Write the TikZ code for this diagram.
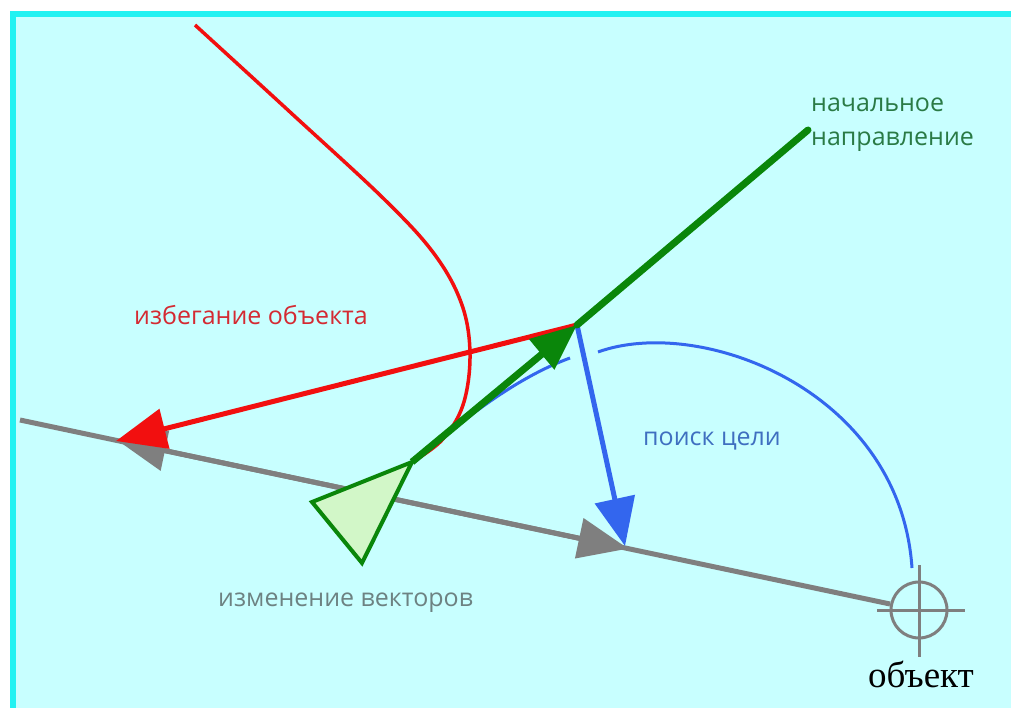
\documentclass[tikz,border=0pt]{standalone}
\usepackage{fontspec}
\setmainfont{Open Sans}
\newfontfamily\serifcyr{Liberation Serif}
\usetikzlibrary{arrows.meta,calc}
\definecolor{bgc}{HTML}{C8FFFF}
\definecolor{brd}{HTML}{22F2F2}
\definecolor{redl}{HTML}{F20F0F}
\definecolor{greenl}{HTML}{0A860A}
\definecolor{bluel}{HTML}{3366EE}
\definecolor{grayl}{HTML}{7F7F7F}
\definecolor{redt}{HTML}{D42A32}
\definecolor{greent}{HTML}{2A7A45}
\definecolor{bluet}{HTML}{3F6FC0}
\definecolor{grayt}{HTML}{6D8282}
\definecolor{robotfill}{HTML}{D2F7C8}
\tikzset{
  lbl/.style={font=\fontsize{25}{30}\selectfont, inner sep=0pt, anchor=base west},
  bigtip/.style={-{Triangle[length=#1pt,width=40pt]}},
}
\begin{document}
\begin{tikzpicture}[x=1pt,y=-1pt]
\useasboundingbox (0,0) rectangle (1011,708);
% background
\fill[white] (0,0) rectangle (1011,708);
\fill[bgc] (10,11) rectangle (1011,708);
\draw[brd, line width=6pt] (13,708) -- (13,14) -- (1011,14);
% object crosshair
\node[circle, draw=grayl, line width=3pt, minimum size=56pt, inner sep=0pt] (obj) at (919,610) {};
\draw[grayl, line width=3pt] (877,610) -- (965,610);
\draw[grayl, line width=3pt] (919,565) -- (919,657);
\node[font=\serifcyr\fontsize{37}{40}\selectfont, anchor=base, inner sep=0pt] (objt) at (921,687) {объект};
% coordinates
\coordinate (gL) at (20,420);
\coordinate (gR) at (890,604);
\coordinate (tipG1) at ($(gL)!0.1126!(gR)$);
\coordinate (tipG2) at ($(gL)!0.699!(gR)$);
\coordinate (gMid) at ($(gL)!0.4!(gR)$);
\coordinate (bk) at (577,325);
\coordinate (gEnd) at (808,130);
\coordinate (rA) at (412,462);
\coordinate (rB) at (312,502);
\coordinate (rC) at (362,563);
\coordinate (tipB) at (625,546);
\coordinate (tipR) at (116,441);
% gray line
\draw[grayl, line width=5pt] (gL) -- (gR);
\draw[grayl, line width=5pt, bigtip=48] (gMid) -- (tipG1);
\draw[grayl, line width=5pt, bigtip=50] (gMid) -- (tipG2);
% red curve
\draw[redl, line width=3.5pt] plot[smooth, tension=0.6] coordinates {(195,25) (290,112) (385,200) (435,255) (462,305) (470,355) (463,405) (442,440) (412,462)};
% blue curves
\draw[bluel, line width=3pt] (rA) .. controls (455,427) and (510,380) .. (570,358);
\draw[bluel, line width=3pt] (598,352) .. controls (700,315) and (900,390) .. (912,568);
% red arrow
\draw[redl, line width=5pt, bigtip=50] (bk) -- (tipR);
% blue arrow
\draw[bluel, line width=5pt, bigtip=48] (bk) -- (tipB);
% green
\draw[greenl, line width=7pt, line cap=round] (bk) -- (gEnd);
\draw[greenl, line width=7pt, -{Triangle[length=46pt,width=38pt]}] (rA) -- (bk);
\draw[greenl, fill=robotfill, line width=4pt, line join=miter] (rA) -- (rB) -- (rC) -- cycle;
% labels
\node[lbl, text=redt] (lav) at (134,324) {избегание объекта};
\node[lbl, text=greent] (ld1) at (811,112) {начальное};
\node[lbl, text=greent] (ld2) at (811,146) {направление};
\node[lbl, text=bluet] (lgs) at (643,445) {поиск цели};
\node[lbl, text=grayt] (lvc) at (218,606) {изменение векторов};
\end{tikzpicture}
\end{document}
